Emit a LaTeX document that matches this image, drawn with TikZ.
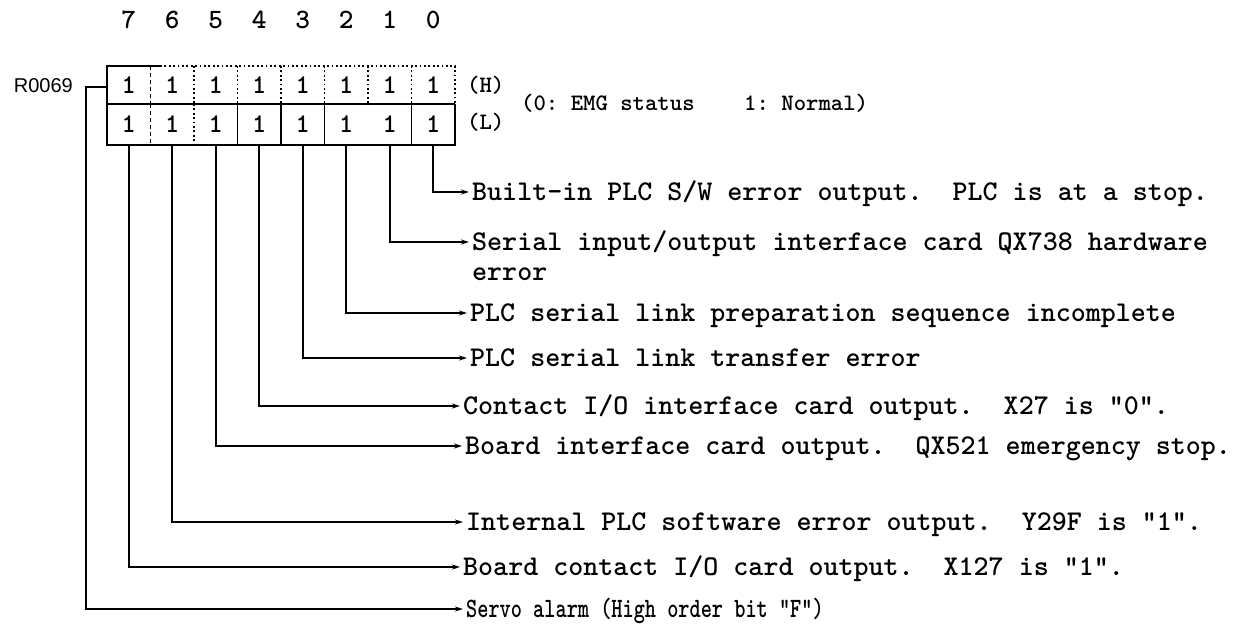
\documentclass[tikz,border=0pt]{standalone}
\usepackage{fontspec}
\newfontfamily\rfont{Liberation Sans}
\newfontfamily\twfont{lmmonolt10-bold}[Extension=.otf]
\newfontfamily\twcond{lmmonolt10-bold}[Extension=.otf,FakeStretch=0.76]
\usetikzlibrary{arrows.meta}
\begin{document}
\begin{tikzpicture}[x=1pt,y=-1pt,
  lw/.style={line width=1.8pt},
  conn/.style={lw,-{Stealth[length=8pt,width=5pt]},line join=miter},
  lbl/.style={font={\fontsize{28.6}{32}\twfont},anchor=west,inner xsep=3pt,inner ysep=0pt,text height=17pt,text depth=0pt},
  small/.style={font={\fontsize{23.6}{28}\twfont},anchor=west,inner sep=0pt},
  cell/.style={minimum width=43.5pt,inner sep=0pt,font={\fontsize{27}{30}\twfont}},
  dig/.style={inner sep=0pt,font={\fontsize{28}{30}\twfont}},
  dashdiv/.style={lw,dash pattern=on 4pt off 3pt},
  dotdiv/.style={lw,dash pattern=on 1.8pt off 2.6pt}]
\useasboundingbox (0,0) rectangle (1234,625);

% register frame
\draw[lw] (160,66) -- (107,66) -- (107,145) -- (455,145) -- (455,104);
\draw[lw] (107,104) -- (455,104);
\draw[dotdiv] (160,66) -- (455,66) -- (455,104);
% dividers, high row
\draw[dashdiv] (150.5,66) -- (150.5,104);
\foreach \x in {194,237.5,281,324.5,368,411.5} \draw[dotdiv] (\x,66) -- (\x,104);
% dividers, low row
\draw[dashdiv] (150.5,104) -- (150.5,145);
\draw[dotdiv] (194,104) -- (194,145);
\foreach \x in {237.5,281,324.5,411.5} \draw[lw] (\x,104) -- (\x,145);

% cells and bit numbers
\foreach \i in {0,...,7}{
  \pgfmathsetmacro{\cx}{107+43.5*(7-\i)+21.75}
  \node[cell,minimum height=38pt] (h\i) at (\cx,85) {1};
  \node[cell,minimum height=41pt] (l\i) at (\cx,124.5) {1};
  \node[dig] (d\i) at (\cx,20) {\i};
}

\node[anchor=east,inner sep=0pt,font={\fontsize{20}{22}\rfont}] (rlab) at (73,86) {R0069};
\node[small] (hl) at (467,85) {(H)};
\node[small] (ll) at (467,122) {(L)};
\node[small] (emg) at (521,103) {(0:~EMG~status~~~~1:~Normal)};

% descriptions
\node[lbl] (t0) at (469,192) {Built-in PLC S/W error output.~~PLC is at a stop.};
\node[lbl] (t1) at (469,242) {Serial input/output interface card QX738 hardware};
\node[lbl] (t1b) at (469,272) {error};
\node[lbl] (t2) at (467,313) {PLC serial link preparation sequence incomplete};
\node[lbl] (t3) at (467,358) {PLC serial link transfer error};
\node[lbl] (t4) at (460,406) {Contact I/O interface card output.~~X27 is "0".};
\node[lbl] (t5) at (462,446) {Board interface card output.~~QX521 emergency stop.};
\node[lbl] (t6) at (463,522) {Internal PLC software error output.~~Y29F is "1".};
\node[lbl] (t7) at (460,567) {Board contact I/O card output.~~X127 is "1".};
\node[lbl,font={\fontsize{28}{32}\twcond}] (tR) at (463,609) {Servo alarm (High order bit "F")};

% connectors
\foreach \i in {0,...,7} \draw[conn] (l\i.south) |- (t\i.west);
\coordinate (rstart) at (107,87);
\draw[conn] (rstart) -- (86,87) |- (tR.west);
\end{tikzpicture}
\end{document}
